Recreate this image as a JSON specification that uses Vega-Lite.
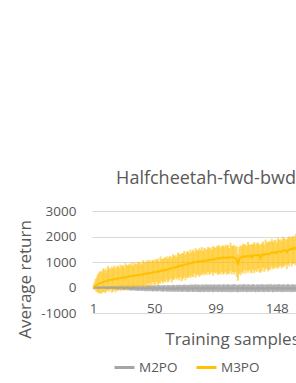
{
"$schema": "https://vega.github.io/schema/vega-lite/v6.json",
"width": 204, "height": 102,
"autosize": {"type": "none"},
"padding": {"left": 92, "top": 211, "right": 0, "bottom": 70},
"background": "white",
"config": {"font": "Open Sans", "view": {"stroke": null},
  "axis": {"labelOverlap": false, "labelSeparation": 0},
  "axisY": {"labelOverlap": false, "values": [-1000, 0, 1000, 2000, 3000], "labelExpr": "datum.value + ''", "grid": true, "gridColor": "#D9D9D9", "gridWidth": 1, "domain": false, "ticks": false, "tickSize": 0,
            "labelFontSize": 13.5, "labelColor": "#595959", "labelPadding": 16,
            "titleFontSize": 17, "titleFontWeight": "normal", "titleColor": "#595959",
            "titleX": -67, "titleY": 68, "titleAlign": "center", "titleBaseline": "middle", "titleAngle": 270}},
"title": {"text": "Halfcheetah-fwd-bwd", "fontSize": 18, "fontWeight": "normal", "color": "#595959", "anchor": "middle", "frame": "group", "dx": 12, "baseline": "alphabetic", "offset": 2},
"data": {"values": [
{"s":1,"m3":0,"l3":0,"h3":0,"m2":0,"l2":0,"h2":0},
{"s":2,"m3":40,"l3":-80,"h3":190,"m2":-5,"l2":-25,"h2":15},
{"s":3,"m3":75,"l3":-125,"h3":335,"m2":5,"l2":-20,"h2":30},
{"s":4,"m3":100,"l3":-180,"h3":430,"m2":-10,"l2":-40,"h2":20},
{"s":5,"m3":125,"l3":-205,"h3":525,"m2":0,"l2":-30,"h2":35},
{"s":6,"m3":150,"l3":-230,"h3":600,"m2":-15,"l2":-50,"h2":20},
{"s":7,"m3":170,"l3":-230,"h3":650,"m2":5,"l2":-30,"h2":40},
{"s":8,"m3":195,"l3":-235,"h3":615,"m2":-10,"l2":-45,"h2":30},
{"s":9,"m3":215,"l3":-165,"h3":745,"m2":-5,"l2":-45,"h2":35},
{"s":10,"m3":230,"l3":-190,"h3":680,"m2":10,"l2":-30,"h2":50},
{"s":11,"m3":250,"l3":-220,"h3":750,"m2":-15,"l2":-60,"h2":30},
{"s":12,"m3":265,"l3":-145,"h3":655,"m2":-5,"l2":-50,"h2":45},
{"s":13,"m3":280,"l3":-120,"h3":840,"m2":-20,"l2":-70,"h2":30},
{"s":14,"m3":290,"l3":-160,"h3":760,"m2":0,"l2":-55,"h2":55},
{"s":15,"m3":300,"l3":-80,"h3":740,"m2":-10,"l2":-60,"h2":45},
{"s":16,"m3":315,"l3":-205,"h3":825,"m2":5,"l2":-50,"h2":65},
{"s":17,"m3":305,"l3":-165,"h3":765,"m2":-20,"l2":-80,"h2":40},
{"s":18,"m3":330,"l3":-80,"h3":870,"m2":-5,"l2":-65,"h2":60},
{"s":19,"m3":345,"l3":-195,"h3":755,"m2":-15,"l2":-80,"h2":50},
{"s":20,"m3":340,"l3":-120,"h3":830,"m2":0,"l2":-65,"h2":70},
{"s":21,"m3":360,"l3":-130,"h3":840,"m2":-25,"l2":-95,"h2":45},
{"s":22,"m3":350,"l3":-50,"h3":770,"m2":-10,"l2":-80,"h2":60},
{"s":23,"m3":370,"l3":-140,"h3":900,"m2":5,"l2":-70,"h2":80},
{"s":24,"m3":385,"l3":-45,"h3":835,"m2":-20,"l2":-90,"h2":55},
{"s":25,"m3":380,"l3":-120,"h3":880,"m2":-5,"l2":-80,"h2":75},
{"s":26,"m3":400,"l3":-50,"h3":790,"m2":-30,"l2":-105,"h2":50},
{"s":27,"m3":390,"l3":10,"h3":950,"m2":-15,"l2":-95,"h2":70},
{"s":28,"m3":415,"l3":-105,"h3":885,"m2":0,"l2":-80,"h2":85},
{"s":29,"m3":430,"l3":-40,"h3":870,"m2":-20,"l2":-105,"h2":60},
{"s":30,"m3":420,"l3":10,"h3":930,"m2":-10,"l2":-95,"h2":80},
{"s":31,"m3":440,"l3":-100,"h3":900,"m2":-35,"l2":-125,"h2":55},
{"s":32,"m3":455,"l3":-5,"h3":995,"m2":-15,"l2":-110,"h2":80},
{"s":33,"m3":440,"l3":-50,"h3":850,"m2":-25,"l2":-115,"h2":70},
{"s":34,"m3":470,"l3":70,"h3":960,"m2":-5,"l2":-100,"h2":95},
{"s":35,"m3":460,"l3":-50,"h3":940,"m2":-30,"l2":-130,"h2":65},
{"s":36,"m3":490,"l3":60,"h3":910,"m2":-20,"l2":-115,"h2":85},
{"s":37,"m3":480,"l3":-20,"h3":1010,"m2":-40,"l2":-140,"h2":60},
{"s":38,"m3":500,"l3":120,"h3":950,"m2":-10,"l2":-110,"h2":95},
{"s":39,"m3":490,"l3":-30,"h3":990,"m2":-25,"l2":-130,"h2":80},
{"s":40,"m3":520,"l3":50,"h3":910,"m2":-35,"l2":-135,"h2":70},
{"s":41,"m3":505,"l3":95,"h3":1065,"m2":-15,"l2":-120,"h2":90},
{"s":42,"m3":540,"l3":0,"h3":1010,"m2":-30,"l2":-135,"h2":75},
{"s":43,"m3":530,"l3":70,"h3":970,"m2":-45,"l2":-150,"h2":65},
{"s":44,"m3":555,"l3":65,"h3":1065,"m2":-20,"l2":-125,"h2":90},
{"s":45,"m3":560,"l3":160,"h3":1020,"m2":-35,"l2":-145,"h2":75},
{"s":46,"m3":545,"l3":35,"h3":1085,"m2":-10,"l2":-115,"h2":100},
{"s":47,"m3":580,"l3":150,"h3":990,"m2":-40,"l2":-150,"h2":70},
{"s":48,"m3":570,"l3":70,"h3":1060,"m2":-25,"l2":-135,"h2":90},
{"s":49,"m3":600,"l3":220,"h3":1080,"m2":-50,"l2":-160,"h2":65},
{"s":50,"m3":610,"l3":90,"h3":1030,"m2":-30,"l2":-140,"h2":80},
{"s":51,"m3":590,"l3":120,"h3":1120,"m2":-20,"l2":-130,"h2":95},
{"s":52,"m3":625,"l3":215,"h3":1075,"m2":-45,"l2":-160,"h2":70},
{"s":53,"m3":640,"l3":100,"h3":1140,"m2":-35,"l2":-145,"h2":85},
{"s":54,"m3":620,"l3":160,"h3":1010,"m2":-15,"l2":-125,"h2":100},
{"s":55,"m3":660,"l3":170,"h3":1220,"m2":-40,"l2":-155,"h2":75},
{"s":56,"m3":650,"l3":250,"h3":1120,"m2":-30,"l2":-145,"h2":90},
{"s":57,"m3":680,"l3":170,"h3":1120,"m2":-50,"l2":-165,"h2":70},
{"s":58,"m3":670,"l3":240,"h3":1180,"m2":-20,"l2":-135,"h2":100},
{"s":59,"m3":700,"l3":200,"h3":1160,"m2":-35,"l2":-155,"h2":85},
{"s":60,"m3":690,"l3":310,"h3":1230,"m2":-45,"l2":-165,"h2":75},
{"s":61,"m3":720,"l3":200,"h3":1130,"m2":-25,"l2":-145,"h2":100},
{"s":62,"m3":730,"l3":260,"h3":1220,"m2":-40,"l2":-160,"h2":85},
{"s":63,"m3":750,"l3":340,"h3":1230,"m2":-30,"l2":-155,"h2":95},
{"s":64,"m3":735,"l3":195,"h3":1155,"m2":-50,"l2":-170,"h2":75},
{"s":65,"m3":770,"l3":310,"h3":1300,"m2":-20,"l2":-145,"h2":110},
{"s":66,"m3":790,"l3":300,"h3":1240,"m2":-35,"l2":-160,"h2":90},
{"s":67,"m3":780,"l3":380,"h3":1280,"m2":-45,"l2":-170,"h2":80},
{"s":68,"m3":820,"l3":310,"h3":1210,"m2":-25,"l2":-150,"h2":105},
{"s":69,"m3":810,"l3":380,"h3":1370,"m2":-40,"l2":-165,"h2":90},
{"s":70,"m3":850,"l3":275,"h3":1320,"m2":-30,"l2":-160,"h2":100},
{"s":71,"m3":860,"l3":405,"h3":1300,"m2":-20,"l2":-150,"h2":110},
{"s":72,"m3":840,"l3":245,"h3":1350,"m2":-45,"l2":-175,"h2":85},
{"s":73,"m3":880,"l3":335,"h3":1340,"m2":-35,"l2":-165,"h2":100},
{"s":74,"m3":900,"l3":415,"h3":1440,"m2":-15,"l2":-145,"h2":120},
{"s":75,"m3":890,"l3":275,"h3":1300,"m2":-40,"l2":-170,"h2":95},
{"s":76,"m3":920,"l3":385,"h3":1410,"m2":-30,"l2":-165,"h2":105},
{"s":77,"m3":940,"l3":375,"h3":1420,"m2":-50,"l2":-180,"h2":85},
{"s":78,"m3":925,"l3":450,"h3":1345,"m2":-25,"l2":-160,"h2":115},
{"s":79,"m3":960,"l3":375,"h3":1490,"m2":-35,"l2":-170,"h2":100},
{"s":80,"m3":950,"l3":445,"h3":1400,"m2":-20,"l2":-155,"h2":120},
{"s":81,"m3":980,"l3":405,"h3":1480,"m2":-45,"l2":-180,"h2":95},
{"s":82,"m3":1000,"l3":545,"h3":1390,"m2":-30,"l2":-170,"h2":110},
{"s":83,"m3":985,"l3":390,"h3":1545,"m2":-10,"l2":-150,"h2":130},
{"s":84,"m3":1010,"l3":465,"h3":1480,"m2":-40,"l2":-175,"h2":100},
{"s":85,"m3":1000,"l3":515,"h3":1440,"m2":-25,"l2":-165,"h2":115},
{"s":86,"m3":1030,"l3":415,"h3":1540,"m2":-35,"l2":-175,"h2":105},
{"s":87,"m3":1020,"l3":485,"h3":1480,"m2":-50,"l2":-185,"h2":90},
{"s":88,"m3":1050,"l3":485,"h3":1590,"m2":-20,"l2":-160,"h2":125},
{"s":89,"m3":1035,"l3":560,"h3":1445,"m2":-30,"l2":-170,"h2":110},
{"s":90,"m3":1060,"l3":475,"h3":1550,"m2":-45,"l2":-180,"h2":95},
{"s":91,"m3":1045,"l3":540,"h3":1525,"m2":-15,"l2":-155,"h2":130},
{"s":92,"m3":1070,"l3":495,"h3":1490,"m2":-35,"l2":-175,"h2":105},
{"s":93,"m3":1060,"l3":605,"h3":1590,"m2":-25,"l2":-165,"h2":120},
{"s":94,"m3":1090,"l3":495,"h3":1540,"m2":-40,"l2":-180,"h2":100},
{"s":95,"m3":1075,"l3":530,"h3":1575,"m2":-20,"l2":-160,"h2":125},
{"s":96,"m3":1100,"l3":615,"h3":1490,"m2":-30,"l2":-170,"h2":110},
{"s":97,"m3":1080,"l3":465,"h3":1640,"m2":-45,"l2":-185,"h2":95},
{"s":98,"m3":1120,"l3":585,"h3":1590,"m2":-15,"l2":-155,"h2":130},
{"s":99,"m3":1110,"l3":545,"h3":1550,"m2":-35,"l2":-175,"h2":105},
{"s":100,"m3":1130,"l3":580,"h3":1640,"m2":-25,"l2":-165,"h2":120},
{"s":101,"m3":1150,"l3":490,"h3":1610,"m2":-40,"l2":-180,"h2":100},
{"s":102,"m3":1125,"l3":545,"h3":1665,"m2":-20,"l2":-160,"h2":125},
{"s":103,"m3":1160,"l3":510,"h3":1570,"m2":-30,"l2":-170,"h2":115},
{"s":104,"m3":1140,"l3":610,"h3":1630,"m2":-45,"l2":-185,"h2":95},
{"s":105,"m3":1180,"l3":510,"h3":1660,"m2":-15,"l2":-155,"h2":130},
{"s":106,"m3":1165,"l3":545,"h3":1585,"m2":-35,"l2":-175,"h2":110},
{"s":107,"m3":1150,"l3":590,"h3":1680,"m2":-25,"l2":-165,"h2":120},
{"s":108,"m3":1190,"l3":500,"h3":1640,"m2":-40,"l2":-180,"h2":105},
{"s":109,"m3":1170,"l3":560,"h3":1670,"m2":-20,"l2":-160,"h2":125},
{"s":110,"m3":1160,"l3":520,"h3":1550,"m2":-30,"l2":-170,"h2":115},
{"s":111,"m3":1200,"l3":650,"h3":1760,"m2":-50,"l2":-190,"h2":95},
{"s":112,"m3":1175,"l3":515,"h3":1645,"m2":-25,"l2":-165,"h2":120},
{"s":113,"m3":1190,"l3":610,"h3":1630,"m2":-35,"l2":-175,"h2":110},
{"s":114,"m3":1160,"l3":510,"h3":1670,"m2":-15,"l2":-155,"h2":135},
{"s":115,"m3":1140,"l3":610,"h3":1600,"m2":-40,"l2":-180,"h2":105},
{"s":116,"m3":1080,"l3":410,"h3":1620,"m2":-30,"l2":-170,"h2":115},
{"s":117,"m3":880,"l3":260,"h3":1290,"m2":-45,"l2":-185,"h2":100},
{"s":118,"m3":1100,"l3":540,"h3":1590,"m2":-20,"l2":-160,"h2":125},
{"s":119,"m3":1170,"l3":480,"h3":1650,"m2":-35,"l2":-175,"h2":110},
{"s":120,"m3":1210,"l3":600,"h3":1630,"m2":-25,"l2":-165,"h2":120},
{"s":121,"m3":1190,"l3":550,"h3":1720,"m2":-40,"l2":-180,"h2":105},
{"s":122,"m3":1230,"l3":680,"h3":1680,"m2":-15,"l2":-155,"h2":135},
{"s":123,"m3":1200,"l3":540,"h3":1700,"m2":-30,"l2":-170,"h2":115},
{"s":124,"m3":1240,"l3":660,"h3":1630,"m2":-45,"l2":-185,"h2":100},
{"s":125,"m3":1230,"l3":580,"h3":1790,"m2":-20,"l2":-160,"h2":130},
{"s":126,"m3":1215,"l3":685,"h3":1685,"m2":-35,"l2":-175,"h2":110},
{"s":127,"m3":1250,"l3":580,"h3":1690,"m2":-25,"l2":-165,"h2":120},
{"s":128,"m3":1180,"l3":560,"h3":1690,"m2":-40,"l2":-180,"h2":100},
{"s":129,"m3":1260,"l3":700,"h3":1720,"m2":-10,"l2":-150,"h2":140},
{"s":130,"m3":1245,"l3":555,"h3":1785,"m2":-30,"l2":-170,"h2":115},
{"s":131,"m3":1270,"l3":660,"h3":1680,"m2":-45,"l2":-185,"h2":95},
{"s":132,"m3":1255,"l3":615,"h3":1745,"m2":-20,"l2":-160,"h2":125},
{"s":133,"m3":1280,"l3":730,"h3":1760,"m2":-35,"l2":-175,"h2":110},
{"s":134,"m3":1260,"l3":600,"h3":1680,"m2":-25,"l2":-165,"h2":120},
{"s":135,"m3":1150,"l3":570,"h3":1680,"m2":-40,"l2":-180,"h2":105},
{"s":136,"m3":1290,"l3":640,"h3":1740,"m2":-15,"l2":-155,"h2":135},
{"s":137,"m3":1300,"l3":770,"h3":1800,"m2":-30,"l2":-170,"h2":115},
{"s":138,"m3":1280,"l3":610,"h3":1670,"m2":-45,"l2":-185,"h2":100},
{"s":139,"m3":1320,"l3":700,"h3":1880,"m2":-20,"l2":-160,"h2":125},
{"s":140,"m3":1310,"l3":750,"h3":1780,"m2":-35,"l2":-175,"h2":110},
{"s":141,"m3":1330,"l3":640,"h3":1770,"m2":-25,"l2":-165,"h2":125},
{"s":142,"m3":1300,"l3":690,"h3":1810,"m2":-40,"l2":-180,"h2":100},
{"s":143,"m3":1350,"l3":710,"h3":1810,"m2":-10,"l2":-150,"h2":140},
{"s":144,"m3":1370,"l3":820,"h3":1910,"m2":-30,"l2":-170,"h2":115},
{"s":145,"m3":1380,"l3":720,"h3":1790,"m2":-45,"l2":-185,"h2":95},
{"s":146,"m3":1360,"l3":780,"h3":1850,"m2":-20,"l2":-160,"h2":130},
{"s":147,"m3":1390,"l3":740,"h3":1870,"m2":-35,"l2":-175,"h2":110},
{"s":148,"m3":1340,"l3":810,"h3":1760,"m2":-25,"l2":-165,"h2":120},
{"s":149,"m3":1410,"l3":740,"h3":1940,"m2":-40,"l2":-180,"h2":105},
{"s":150,"m3":1420,"l3":800,"h3":1870,"m2":-15,"l2":-155,"h2":135},
{"s":151,"m3":1400,"l3":840,"h3":1900,"m2":-30,"l2":-170,"h2":115},
{"s":152,"m3":1440,"l3":750,"h3":1830,"m2":-45,"l2":-185,"h2":100},
{"s":153,"m3":1430,"l3":820,"h3":1990,"m2":-20,"l2":-160,"h2":125},
{"s":154,"m3":1460,"l3":820,"h3":1930,"m2":-35,"l2":-175,"h2":110},
{"s":155,"m3":1450,"l3":900,"h3":1890,"m2":-25,"l2":-165,"h2":120},
{"s":156,"m3":1380,"l3":720,"h3":1890,"m2":-40,"l2":-180,"h2":105},
{"s":157,"m3":1480,"l3":900,"h3":1940,"m2":-10,"l2":-150,"h2":140},
{"s":158,"m3":1470,"l3":820,"h3":2010,"m2":-30,"l2":-170,"h2":115},
{"s":159,"m3":1520,"l3":990,"h3":1930,"m2":-45,"l2":-185,"h2":95},
{"s":160,"m3":1500,"l3":830,"h3":1990,"m2":-20,"l2":-160,"h2":130},
{"s":161,"m3":1540,"l3":920,"h3":2020,"m2":-35,"l2":-175,"h2":110},
{"s":162,"m3":1510,"l3":950,"h3":1930,"m2":-25,"l2":-165,"h2":120},
{"s":163,"m3":1560,"l3":870,"h3":2090,"m2":-40,"l2":-180,"h2":105},
{"s":164,"m3":1550,"l3":940,"h3":2000,"m2":-15,"l2":-155,"h2":135}
]},
"encoding": {
  "x": {"field": "s", "type": "quantitative",
        "scale": {"domain": [0.2, 163.4], "nice": false, "zero": false},
        "axis": {"values": [1, 50, 99, 148, 197], "grid": false, "domain": false, "ticks": false, "tickSize": 0,
                 "labelFontSize": 13.5, "labelColor": "#595959", "labelBaseline": "alphabetic", "labelPadding": -1,
                 "labelFlush": false, "labelOverlap": false,
                 "title": "Training samples", "titleFontSize": 17, "titleFontWeight": "normal", "titleColor": "#595959",
                 "titleX": 140, "titleY": 31, "titleAlign": "center", "titleBaseline": "alphabetic"}}
},
"layer": [
  {"mark": {"type": "rule", "color": "#A5A5A5", "opacity": 0.75, "strokeWidth": 2, "clip": true},
   "encoding": {"y": {"field": "l2", "type": "quantitative", "scale": {"domain": [-1000, 3000], "nice": false},
      "axis": {"title": "Average return", "labelOverlap": false}},
      "y2": {"field": "h2"}}},
  {"mark": {"type": "rule", "color": "#FFC000", "opacity": 0.55, "strokeWidth": 2, "clip": true},
   "encoding": {"y": {"field": "l3", "type": "quantitative", "axis": {"title": "Average return", "labelOverlap": false}}, "y2": {"field": "h3"}}},
  {"mark": {"type": "line", "strokeWidth": 2, "clip": true},
   "encoding": {"y": {"field": "m2", "type": "quantitative", "axis": {"title": "Average return", "labelOverlap": false}},
      "color": {"datum": "M2PO", "type": "nominal",
        "scale": {"domain": ["M2PO", "M3PO"], "range": ["#A5A5A5", "#FFC000"]},
        "legend": {"orient": "none", "legendX": 21, "legendY": 145, "direction": "horizontal", "title": null,
                   "symbolType": "stroke", "symbolStrokeWidth": 3, "symbolSize": 400,
                   "labelFontSize": 13.5, "labelColor": "#595959", "labelOffset": 3, "columnPadding": 12, "padding": 0}}}},
  {"mark": {"type": "line", "strokeWidth": 2, "clip": true},
   "encoding": {"y": {"field": "m3", "type": "quantitative", "axis": {"title": "Average return", "labelOverlap": false}},
      "color": {"datum": "M3PO", "type": "nominal"}}}
]
}
